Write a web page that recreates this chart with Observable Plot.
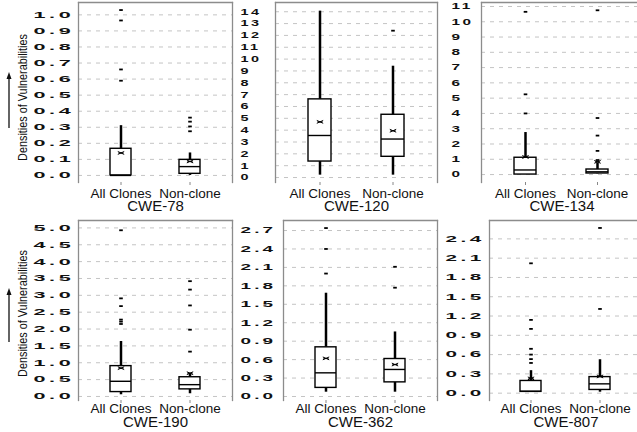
<!DOCTYPE html>
<html><head><meta charset="utf-8">
<script src="https://cdn.jsdelivr.net/npm/d3@7"></script>
<script src="https://cdn.jsdelivr.net/npm/@observablehq/plot@0.6"></script>
<style>
body{margin:0;background:#fff;}
#chart{position:relative;width:637px;height:432px;overflow:hidden;background:#fff;}
#chart > svg{position:absolute;}
</style></head><body><div id="chart"></div>
<script>
// ---- data ----
const groups = ["All Clones", "Non-clone"];
const cwes = ["CWE-78", "CWE-120", "CWE-134", "CWE-190", "CWE-362", "CWE-807"];
const yLabel = "Densities of Vulnerabilities";
// per panel: [All Clones, Non-clone]
const whiskerLow = [[0.0, 0.0], [0.2, 0.2], [0.0, 0.05], [0.05, 0.08], [0.07, 0.07], [0.02, 0.015]];
const q1 = [[0.0, 0.01], [1.35, 1.75], [0.0, 0.07], [0.13, 0.21], [0.14, 0.23], [0.02, 0.05]];
const median = [[0.0, 0.055], [3.55, 3.25], [0.3, 0.18], [0.45, 0.35], [0.385, 0.44], [0.03, 0.145]];
const q3 = [[0.166, 0.097], [6.6, 5.3], [1.1, 0.33], [0.9, 0.57], [0.8, 0.61], [0.19, 0.25]];
const whiskerHigh = [[0.31, 0.14], [14.05, 9.4], [2.75, 0.75], [1.63, 0.66], [1.68, 1.05], [0.35, 0.52]];
const mean = [[0.14, 0.087], [4.7, 3.95], [1.15, 0.83], [0.84, 0.69], [0.62, 0.52], [0.23, 0.26]];
const outliers = [
  [[1.03, 0.965, 0.66, 0.59], [0.36, 0.335, 0.305, 0.275]],
  [[], [12.4]],
  [[10.65, 5.25, 4.0], [10.75, 3.7, 2.55, 1.55, 0.95]],
  [[4.93, 2.91, 2.68, 2.28, 2.22, 2.15], [3.42, 3.17, 2.7, 1.98, 1.33]],
  [[2.74, 2.4, 2.0], [2.11, 1.77]],
  [[2.02, 1.14, 1.0, 0.69, 0.6, 0.53, 0.47], [2.57, 1.31]]
];
const yTicks = [
  [0, 0.1, 0.2, 0.3, 0.4, 0.5, 0.6, 0.7, 0.8, 0.9, 1.0],
  [0, 1, 2, 3, 4, 5, 6, 7, 8, 9, 10, 11, 12, 13, 14],
  [0, 1, 2, 3, 4, 5, 6, 7, 8, 9, 10, 11],
  [0, 0.5, 1.0, 1.5, 2.0, 2.5, 3.0, 3.5, 4.0, 4.5, 5.0],
  [0, 0.3, 0.6, 0.9, 1.2, 1.5, 1.8, 2.1, 2.4, 2.7],
  [0, 0.3, 0.6, 0.9, 1.2, 1.5, 1.8, 2.1, 2.4]
];
const yFormat = [".1f", "d", "d", ".1f", ".1f", ".1f"];
const yDomain = [[-0.044, 1.077], [-0.42, 14.78], [-0.52, 11.26], [-0.12, 5.22], [-0.065, 2.863], [-0.114, 2.686]];

// ---- layout (not data) ----
const layout = [
  {left: 0,   top: 0,   width: 233, height: 215, mL: 78, mT: 2, mB: 33, dx: -45, sx: 2.4, ylab: true,  pad: 3, tdy: 18, ldy: 5},
  {left: 232, top: 0,   width: 206, height: 215, mL: 43, mT: 2, mB: 33, dx: -35, sx: 1.6, ylab: false, pad: 3, tdy: 18},
  {left: 437, top: 0,   width: 206, height: 215, mL: 44, mT: 2, mB: 33, dx: -30, sx: 1.7, ylab: false, pad: 3, tdy: 18},
  {left: 0,   top: 215, width: 233, height: 217, mL: 78, mT: 5, mB: 32, dx: -45, sx: 2.4, ylab: true,  pad: 0, tdy: 16, ldy: 3},
  {left: 232, top: 215, width: 206, height: 217, mL: 51, mT: 5, mB: 32, dx: -43, sx: 2.1, ylab: false, pad: 0, tdy: 16},
  {left: 437, top: 215, width: 206, height: 217, mL: 52, mT: 5, mB: 32, dx: -44, sx: 2.3, ylab: false, pad: 0, tdy: 16}
];

const meanSym = {draw(c, size) {
  const r = Math.sqrt(size / Math.PI), h = r * 0.45;
  c.moveTo(-r, -h); c.lineTo(r, h);
  c.moveTo(-r, h); c.lineTo(r, -h);
  c.moveTo(-r * 0.8, 0); c.lineTo(r * 0.8, 0);
}};
const dashSym = {draw(c, size) {
  const r = Math.sqrt(size / Math.PI);
  c.moveTo(-r, 0); c.lineTo(r, 0);
}};

const chart = document.getElementById("chart");
const FONT = "'Liberation Sans', Arial, Helvetica, sans-serif";

function stretch(sel, sx) {
  sel.each(function () {
    const t = this.getAttribute("transform");
    if (t) this.setAttribute("transform", t + ` scale(${sx},1)`);
    else {
      const x = +this.getAttribute("x") || 0, y = +this.getAttribute("y") || 0;
      this.removeAttribute("x"); this.removeAttribute("y");
      this.setAttribute("transform", `translate(${x},${y}) scale(${sx},1)`);
    }
  });
}

cwes.forEach((cwe, i) => {
  const L = layout[i];
  const rows = groups.map((g, j) => ({
    g, lo: whiskerLow[i][j], q1: q1[i][j], med: median[i][j], q3: q3[i][j],
    hi: whiskerHigh[i][j], mean: mean[i][j]
  }));
  const outl = groups.flatMap((g, j) => outliers[i][j].map(v => ({g, v})));
  const marks = [
    Plot.gridY(yTicks[i], {stroke: "#c4c4c4", strokeOpacity: 1, strokeDasharray: "4,5", strokeWidth: 1}),
    Plot.frame({anchor: "left", stroke: "#8c8c8c", strokeWidth: 1.3}),
    Plot.frame({anchor: "top", stroke: "#8c8c8c", strokeWidth: 1.3}),
    Plot.frame({anchor: "right", stroke: "#8c8c8c", strokeWidth: 1.3}),
    Plot.axisY(yTicks[i], {tickSize: 0, tickPadding: 0, textAnchor: "start", dx: L.dx,
      tickFormat: d3.format(yFormat[i]), fontSize: 9, fontWeight: "bold", label: null, fill: "#111"}),
    Plot.axisX({tickSize: 3, tickPadding: L.pad, fontSize: 13.5, label: null, stroke: "#888", fill: "#111"}),
    Plot.ruleX(rows, {x: "g", y1: "q3", y2: "hi", stroke: "black", strokeWidth: 2.5}),
    Plot.ruleX(rows, {x: "g", y1: "lo", y2: "q1", stroke: "black", strokeWidth: 2.5}),
    Plot.barY(rows, {x: "g", y1: "q1", y2: "q3", fill: "white", stroke: "black", strokeWidth: 1.4}),
    Plot.tickY(rows, {x: "g", y: "med", stroke: "black", strokeWidth: 1.4}),
    Plot.dot(rows, {x: "g", y: "mean", symbol: meanSym, r: 3.2, fill: "none", stroke: "black", strokeWidth: 1}),
    Plot.dot(outl, {x: "g", y: "v", symbol: dashSym, r: 1.8, fill: "none", stroke: "black", strokeWidth: 1.8}),
    Plot.text([cwe], {text: d => d, frameAnchor: "bottom", lineAnchor: "top", dy: L.tdy, fontSize: 15, fill: "#111"})
  ];
  if (L.ylab) marks.push(Plot.text([yLabel], {text: d => d, frameAnchor: "left", textAnchor: "middle", lineAnchor: "middle",
    rotate: -90, dx: -56, dy: L.ldy, fontSize: 13, fill: "#111"}));
  const svg = Plot.plot({
    width: L.width, height: L.height,
    marginLeft: L.mL, marginRight: 1, marginTop: L.mT, marginBottom: L.mB,
    style: {background: "transparent", overflow: "visible", fontFamily: FONT},
    x: {type: "band", domain: groups, paddingInner: 0.69, paddingOuter: 0.45, label: null, axis: null},
    y: {domain: yDomain[i], label: null, axis: null},
    marks
  });
  svg.style.left = L.left + "px";
  svg.style.top = L.top + "px";
  // stretch the y tick labels horizontally like the original
  const tl = d3.select(svg).selectAll('g[aria-label="y-axis tick label"] text').style("letter-spacing", "1.5px");
  stretch(tl, L.sx);
  // condense the y title along its length
  if (L.ylab) stretch(d3.select(svg).selectAll("text").filter(function () { return this.textContent === yLabel; }), 0.835);
  chart.appendChild(svg);
});

// decorative arrows next to the y labels
const deco = d3.select(chart).append("svg").attr("width", 20).attr("height", 432)
  .style("position", "absolute").style("left", "0px").style("top", "0px");
[[128, 72], [342, 288]].forEach(([y0, y1]) => {
  deco.append("line").attr("x1", 9).attr("x2", 9).attr("y1", y0).attr("y2", y1 + 5).attr("stroke", "#111").attr("stroke-width", 1.3);
  deco.append("path").attr("d", `M9,${y1}L6.5,${y1 + 7}L11.5,${y1 + 7}Z`).attr("fill", "#111");
});
</script></body></html>
